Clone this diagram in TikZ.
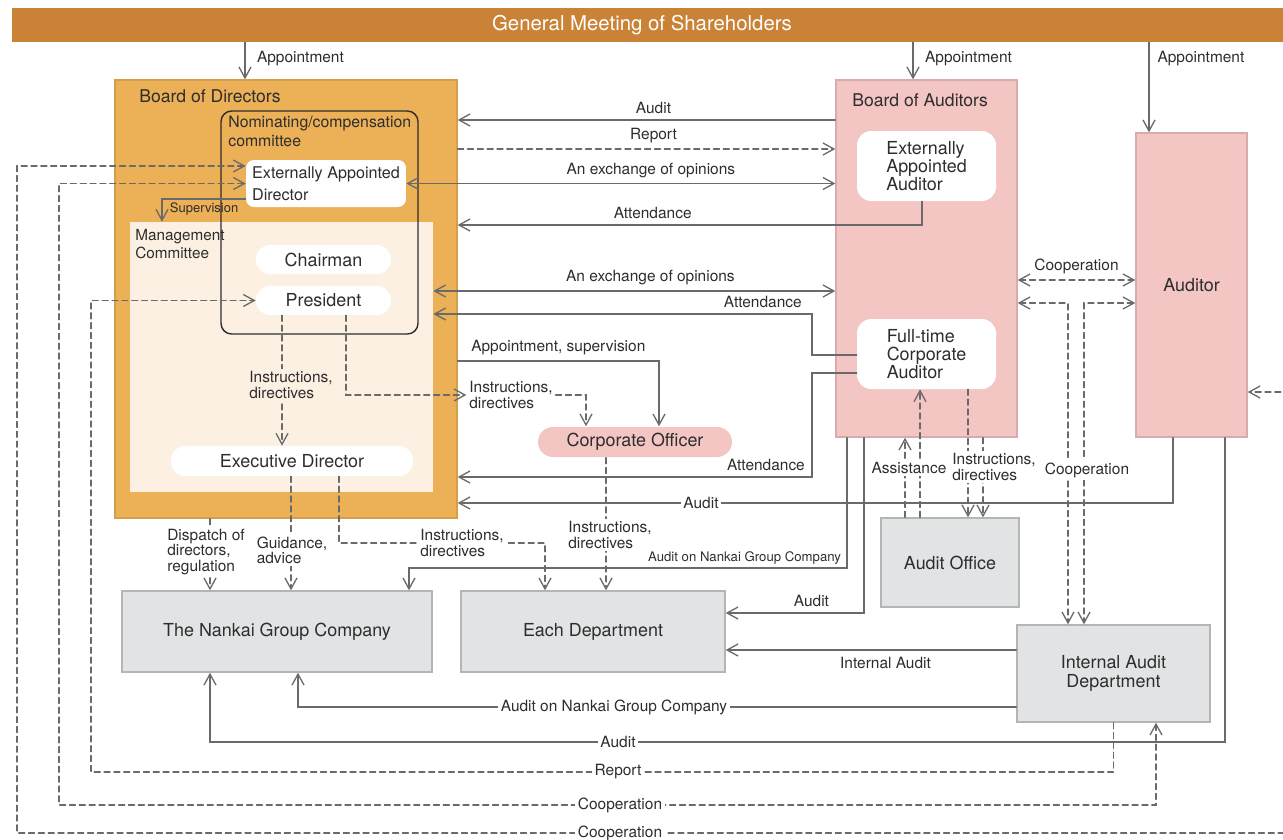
\documentclass[tikz,border=0pt]{standalone}
\usepackage{fontspec}
\setmainfont{TeX Gyre Heros}
\usetikzlibrary{arrows.meta,calc}
\definecolor{banda}{HTML}{C98236}
\definecolor{naranja}{HTML}{ECB056}
\definecolor{crema}{HTML}{FCF0E2}
\definecolor{rosa}{HTML}{F3C5C3}
\definecolor{gris}{HTML}{E1E3E4}
\definecolor{linea}{HTML}{6A6A6A}
\definecolor{texto}{HTML}{2D2D2D}

\tikzset{
  conn/.style={draw=linea,line width=0.75pt,->},
  dconn/.style={conn,dash pattern=on 3.4pt off 2.2pt},
  lbl/.style={text=texto,font=\fontsize{8.8}{8.7}\selectfont,align=left,inner sep=1.5pt},
  blbl/.style={lbl,fill=white},
  unit/.style={text=texto,font=\fontsize{10.2}{10.4}\selectfont,align=center,inner sep=0pt},
  pale/.style={unit,fill=white,rounded corners=8pt},
  greybox/.style={unit,fill=gris,draw=gris!80!black,line width=0.8pt},
  pinkbox/.style={unit,fill=rosa,draw=rosa!88!black,line width=0.8pt},
  title/.style={text=texto,font=\fontsize{10}{11}\selectfont,inner sep=0pt,anchor=west},
}

\begin{document}
\begin{tikzpicture}[x=0.02cm,y=-0.02cm,>={Straight Barb[length=2.2mm,width=2.4mm]},line cap=round]
  \useasboundingbox (0,0) rectangle (1283,839);
  \clip (0,0) rectangle (1283,839);
  % banner
  \node[fill=banda,minimum width=25.2cm,minimum height=0.68cm,inner sep=0pt,text=white,
        font=\fontsize{11.6}{12}\selectfont] (gms) at (642,25) {General Meeting of Shareholders};
  \fill[banda] (gms.north east) rectangle (1290,42);

  % board of directors
  \node[fill=naranja,draw=naranja!90!black,line width=0.8pt,minimum width=6.84cm,minimum height=8.76cm,inner sep=0pt] (bod) at (286,299) {};
  \node[title] (bodt) at (139,96) {Board of Directors};
  \node[fill=crema,minimum width=6.06cm,minimum height=5.4cm,inner sep=0pt] (mgmt) at (281.5,357) {};
  \node[title,anchor=north west,align=left,font=\fontsize{8.7}{10.4}\selectfont] (mgmtt) at (135,229) {Management\\Committee};
  \node[draw=texto,line width=0.8pt,rounded corners=6pt,minimum width=3.94cm,minimum height=4.46cm,inner sep=0pt] (nom) at (319.5,222.5) {};
  \node[title,anchor=north west,align=left,font=\fontsize{9}{10.7}\selectfont] (nomt) at (228,116) {Nominating/compensation\\committee};
  \node[pale,rounded corners=4.5pt,minimum width=3.2cm,minimum height=0.94cm,align=left,
        font=\fontsize{9.2}{12.5}\selectfont] (ead) at (326,183.5) {Externally Appointed\\Director};
  \node[pale,minimum width=2.7cm,minimum height=0.58cm] (chair) at (323.5,259.5) {Chairman};
  \node[pale,minimum width=2.7cm,minimum height=0.58cm] (pres) at (323.5,300.5) {President};
  \node[pale,minimum width=4.84cm,minimum height=0.6cm] (exd) at (292,461) {Executive Director};

  % auditors
  \node[pinkbox,minimum width=3.62cm,minimum height=7.14cm] (boa) at (926.5,258.5) {};
  \node[title] (boat) at (852,100) {Board of Auditors};
  \node[pale,minimum width=2.78cm,minimum height=1.4cm,align=left] (eaa) at (926.5,166) {Externally\\Appointed\\Auditor};
  \node[pale,minimum width=2.78cm,minimum height=1.4cm,align=left] (fca) at (926.5,354) {Full-time\\Corporate\\Auditor};
  \node[pinkbox,minimum width=2.22cm,minimum height=6.08cm] (aud) at (1191.5,285) {Auditor};
  \node[pinkbox,draw=none,rounded corners=8.5pt,minimum width=3.88cm,minimum height=0.6cm] (cof) at (635,442) {Corporate Officer};

  % grey units
  \node[greybox,minimum width=2.76cm,minimum height=1.78cm] (aoff) at (950,562.5) {Audit Office};
  \node[greybox,minimum width=6.2cm,minimum height=1.62cm] (ngc) at (277,631.5) {The Nankai Group Company};
  \node[greybox,minimum width=5.28cm,minimum height=1.62cm] (edep) at (593,631.5) {Each Department};
  \node[greybox,minimum width=3.86cm,minimum height=1.94cm] (iad) at (1113.5,673.5) {Internal Audit\\Department};

  % appointments
  \draw[conn] (245,0 |- gms.south) -- (245,0 |- bod.north) node[lbl,pos=0.45,right=5pt] (lap1) {Appointment};
  \draw[conn] (913,0 |- gms.south) -- (913,0 |- boa.north) node[lbl,pos=0.45,right=5pt] (lap2) {Appointment};
  \draw[conn] (1149,0 |- gms.south) -- (1149,0 |- aud.north) node[lbl,pos=0.18,right=3pt] (lap3) {Appointment};

  % between the boards
  \draw[conn] (boa.west |- 0,120) -- (bod.east |- 0,120) node[lbl,midway,above=1.5pt,xshift=0.14cm] (lau0) {Audit};
  \draw[dconn] (bod.east |- 0,149) -- (boa.west |- 0,149) node[lbl,midway,above=1.5pt,xshift=0.14cm] (lrep0) {Report};
  \draw[conn,<->] (ead.east) -- (boa.west |- ead.east) node[lbl,pos=0.57,above=1.5pt] (lex1) {An exchange of opinions};
  \draw[conn] (eaa.south -| 922,0) |- (bod.east |- 0,225) node[lbl,pos=0.79,above=1.5pt] (lat1) {Attendance};
  \draw[conn,<->] (mgmt.east |- 0,291) -- (boa.west |- 0,291) node[lbl,pos=0.54,above=1.5pt] (lex2) {An exchange of opinions};
  \draw[conn] (fca.west |- 0,355) -- (812,355) -- (812,314) -- (mgmt.east |- 0,314) node[lbl,pos=0.13,above=1.5pt] (lat2) {Attendance};
  \draw[conn] (fca.west |- 0,373) -- (812,373) -- (812,477) -- (bod.east |- 0,477) node[lbl,pos=0.13,above=1.5pt] (lat3) {Attendance};
  \draw[conn] (bod.east |- 0,361) -| (cof.north -| 659,0) node[lbl,pos=0.25,above=1.5pt] (lapp) {Appointment, supervision};

  % inside the board of directors
  \draw[conn] (ead.west |- 0,199) -| (162,0 |- mgmt.north);
  \node[lbl,anchor=west,font=\fontsize{7.4}{8}\selectfont] (lsup) at (167,209) {Supervision};
  \draw[dconn] (pres.south -| 282,0) -- (exd.north -| 282,0);
  \node[lbl,fill=crema] (lins2) at (291,385) {Instructions,\\directives};
  \node[lbl] (lins1) at (511,395) {Instructions,\\directives};
  \draw[dconn] (pres.south -| 346,0) |- (lins1.west);
  \draw[dconn] (lins1.east) -| (cof.north -| 586,0);

  % down to the units
  \draw[dconn] (bod.south -| 210,0) -- (ngc.north -| 210,0);
  \node[blbl] (ldis) at (206,552) {Dispatch of\\directors,\\regulation};
  \draw[dconn] (exd.south -| 291,0) -- (ngc.north -| 291,0);
  \node[blbl] (lgui) at (292,550) {Guidance,\\advice};
  \draw[dconn] (exd.south -| 339,0) |- (545,543) -- (edep.north -| 545,0);
  \node[blbl] (lins5) at (462,543) {Instructions,\\directives};
  \draw[dconn] (cof.south -| 606,0) -- (edep.north -| 606,0);
  \node[blbl] (lins3) at (610,535) {Instructions,\\directives};

  % audits from the auditors
  \draw[conn] (aud.south -| 1173,0) |- (bod.east |- 0,503);
  \node[blbl] (lau1) at (701,503) {Audit};
  \draw[conn] (boa.south -| 847,0) |- (409,568) -- (ngc.north -| 409,0);
  \node[lbl,font=\fontsize{7.5}{8}\selectfont,anchor=south east] (lan1) at (844,567) {Audit on Nankai Group Company};
  \draw[conn] (boa.south -| 864,0) |- (edep.east |- 0,613) node[lbl,pos=0.69,above=1.5pt] (lau2) {Audit};
  \draw[conn] (aud.south -| 1225,0) |- (210,742) -- (ngc.south -| 210,0);
  \node[blbl] (lau3) at (618,742) {Audit};

  % audit office
  \draw[dconn] (aoff.north -| 905,0) -- (boa.south -| 905,0);
  \draw[dconn] (aoff.north -| 920,0) -- (fca.south -| 920,0);
  \node[blbl] (lass) at (909,468) {Assistance};
  \draw[dconn] (fca.south -| 968,0) -- (aoff.north -| 968,0);
  \draw[dconn] (boa.south -| 983,0) -- (aoff.north -| 983,0);
  \node[blbl] (lins4) at (994,467) {Instructions,\\directives};

  % cooperation
  \draw[dconn,<->] (boa.east |- 0,280) -- (aud.west |- 0,280) node[lbl,midway,above=1.5pt] (lco4) {Cooperation};
  \draw[dconn,<->] (boa.east |- 0,303) -| (iad.north -| 1068,0);
  \draw[dconn,<->] (aud.west |- 0,303) -| (iad.north -| 1084,0);
  \node[blbl] (lco3) at (1087,470) {Cooperation};

  % internal audit department
  \draw[conn] (iad.west |- 0,650) -- (edep.east |- 0,650) node[lbl,pos=0.45,below=2pt] (lia) {Internal Audit};
  \draw[conn] (iad.west |- 0,707) -| (ngc.south -| 298,0);
  \node[blbl] (lan2) at (614,707) {Audit on Nankai Group Company};
  \draw[dconn] (iad.south) |- (91,772) |- (pres.west);
  \node[blbl] (lrep) at (618,772) {Report};
  \draw[dconn,<->] (ead.west) -| (59,805) -| ($(iad.south)+(42.5,0)$);
  \node[blbl] (lco1) at (620,805) {Cooperation};
  \draw[dconn,<->] (ead.west |- 0,166) -| (17,833) -| (1300,392) -- (aud.east |- 0,392);
  \node[blbl] (lco2) at (620,833) {Cooperation};
\end{tikzpicture}
\end{document}
